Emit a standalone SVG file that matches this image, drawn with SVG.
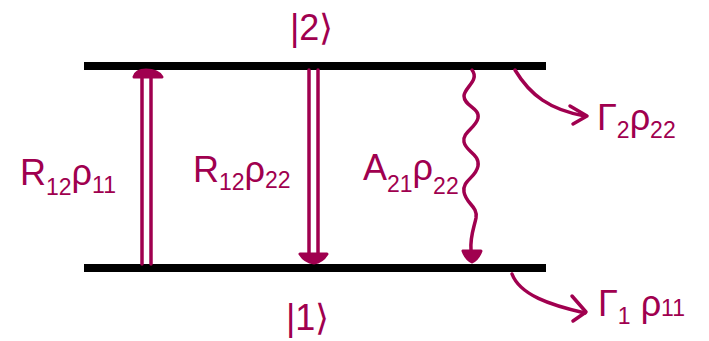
<svg xmlns="http://www.w3.org/2000/svg" width="709" height="341" viewBox="0 0 709 341">
<style>
.lvl{stroke:#000;stroke-width:8;fill:none}
.ink{stroke:#a0004f;fill:none;stroke-width:3.5;stroke-linecap:round;stroke-linejoin:round}
.head{fill:#a0004f;stroke:#a0004f;stroke-width:3;stroke-linejoin:round}
.t{font-family:"Liberation Sans",Arial,sans-serif;fill:#a0004f;font-size:36px}
.s{font-size:23px}
</style>
<rect width="709" height="341" fill="#fff"/>
<g id="level2"><line class="lvl" x1="84" y1="66" x2="546" y2="66"/></g>
<g id="level1"><line class="lvl" x1="84" y1="268" x2="546" y2="268"/></g>
<g id="connectors">
  <g id="absorption">
    <line class="ink" x1="142" y1="264" x2="142" y2="76"/>
    <line class="ink" x1="151" y1="264" x2="151" y2="76"/>
    <path class="head" d="M134,77 Q136,70 146,70 Q158,70 162,77 Z"/>
  </g>
  <g id="stimulated">
    <line class="ink" x1="309" y1="70" x2="309" y2="254"/>
    <line class="ink" x1="318" y1="70" x2="318" y2="254"/>
    <path class="head" d="M300,254 L327,254 Q322,262 314,263 Q305,262 300,254 Z"/>
  </g>
  <g id="spontaneous">
    <path class="ink" d="M472,70 C480,80 464,88 464,96 C464,106 480,108 478,118 C476,128 462,132 464,142 C466,152 480,154 478,166 C476,178 462,180 464,192 C466,204 478,206 476,218 C474,228 470,236 471,250"/>
    <path class="head" d="M463,251 L481,251 Q478,259 472,262 Q466,259 463,251 Z"/>
  </g>
  <g id="decay2">
    <path class="ink" d="M515,70 C530,95 550,110 585,116"/>
    <path class="ink" d="M570,106 L587,116 L573,124"/>
  </g>
  <g id="decay1">
    <path class="ink" d="M512,274 C520,295 550,305 585,313"/>
    <path class="ink" d="M572,296 L586,312 L573,321"/>
  </g>
</g>
<g id="labels">
  <text class="t" x="290" y="40">|2⟩</text>
  <text class="t" x="286" y="330" font-size="33">|1⟩</text>
  <text class="t" x="20" y="185">R<tspan class="s" dy="10">12</tspan><tspan dy="-10">ρ</tspan><tspan class="s" dy="8">11</tspan></text>
  <text class="t" x="193" y="182">R<tspan class="s" dy="8">12</tspan><tspan dy="-8">ρ</tspan><tspan class="s" dy="6">22</tspan></text>
  <text class="t" x="363" y="180">A<tspan class="s" dy="12">21</tspan><tspan dy="-12">ρ</tspan><tspan class="s" dy="14">22</tspan></text>
  <text class="t" x="597" y="130">Γ<tspan class="s" dy="8">2</tspan><tspan dy="-8">ρ</tspan><tspan class="s" dy="8">22</tspan></text>
  <text class="t" x="598" y="316">Γ<tspan class="s" dy="8">1</tspan><tspan dy="-8"> ρ</tspan><tspan class="s" dy="0">11</tspan></text>
</g>
</svg>
